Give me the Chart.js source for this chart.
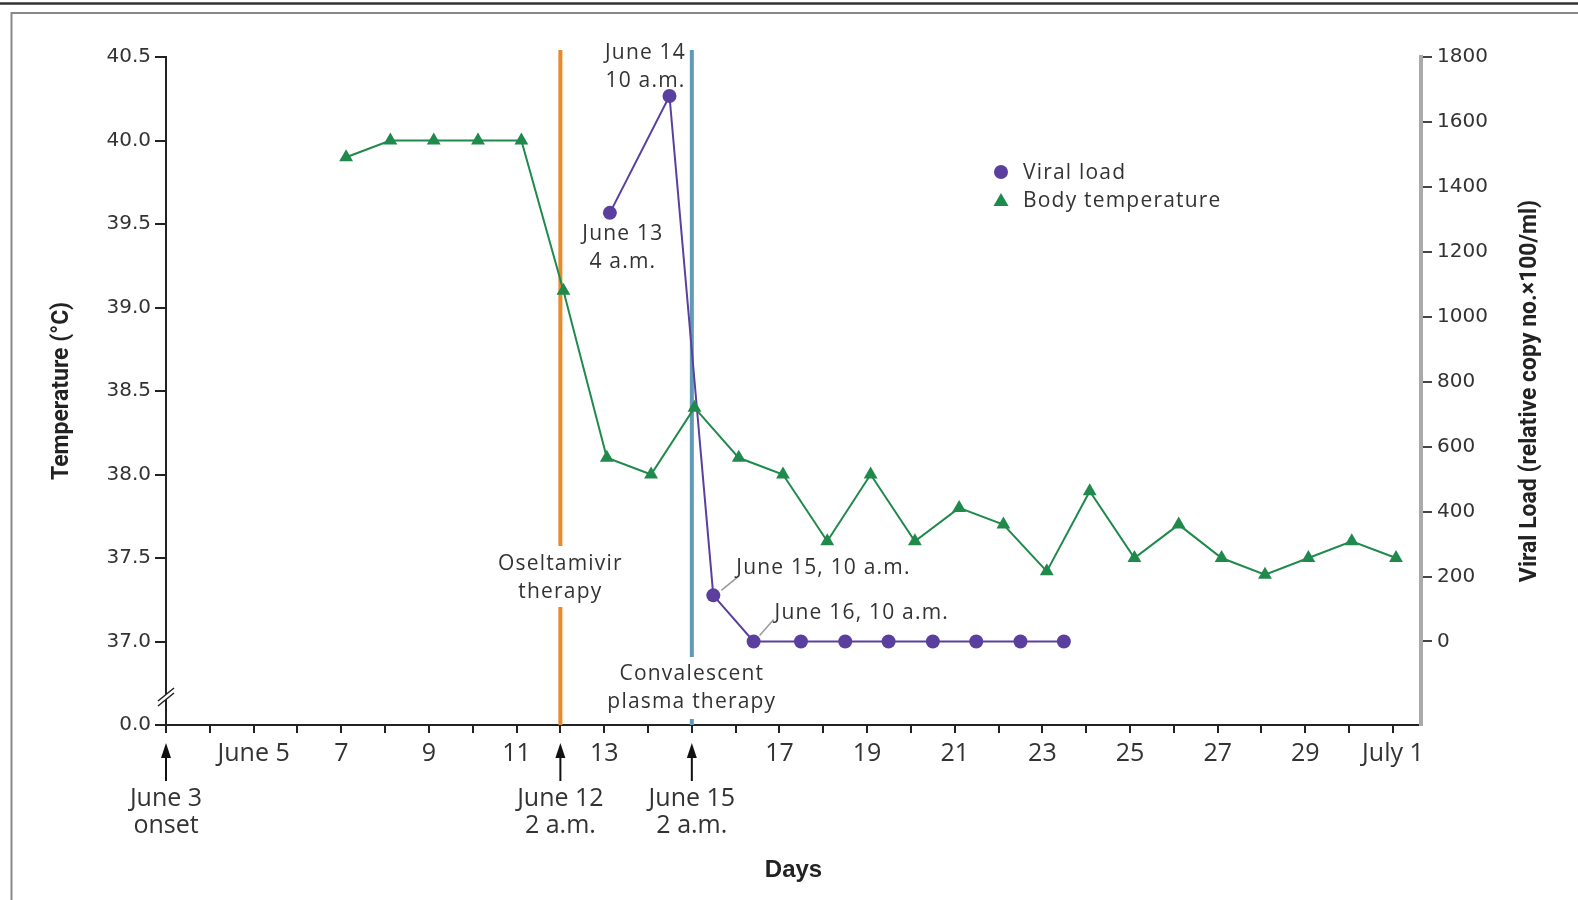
<!DOCTYPE html>
<html><head><meta charset="utf-8">
<script src="https://cdn.jsdelivr.net/npm/chart.js@4.4.0/dist/chart.umd.min.js"></script>
<style>html,body{margin:0;padding:0;background:#fff;}canvas{display:block}</style>
</head><body>
<canvas id="c" width="1578" height="900"></canvas>
<script>
// ---- data ----
const tempDays = [7.11, 8.12, 9.11, 10.12, 11.11, 12.07, 13.06, 14.07, 15.06, 16.07, 17.08, 18.09, 19.08, 20.09, 21.10, 22.11, 23.10, 24.08, 25.10, 26.11, 27.09, 28.08, 29.07, 30.06, 31.07];
const tempValues = [39.9, 40.0, 40.0, 40.0, 40.0, 39.1, 38.1, 38.0, 38.4, 38.1, 38.0, 37.6, 38.0, 37.6, 37.8, 37.7, 37.42, 37.9, 37.5, 37.7, 37.5, 37.4, 37.5, 37.6, 37.5];
const viralDays = [13.13, 14.49, 15.49, 16.41, 17.49, 18.50, 19.49, 20.50, 21.49, 22.50, 23.49];
const viralValues = [1320, 1680, 142, 0, 0, 0, 0, 0, 0, 0, 0];
const tempTicks = [36.5, 37.0, 37.5, 38.0, 38.5, 39.0, 39.5, 40.0, 40.5];
const viralTicks = [0, 200, 400, 600, 800, 1000, 1200, 1400, 1600, 1800];
const dayTicks = [3,4,5,6,7,8,9,10,11,12,13,14,15,16,17,18,19,20,21,22,23,24,25,26,27,28,29,30,31];
const dayLabelDays = [5, 7, 9, 11, 13, 17, 19, 21, 23, 25, 27, 29, 31];
const dayLabelTexts = ['June 5', '7', '9', '11', '13', '17', '19', '21', '23', '25', '27', '29', 'July 1'];
const markerDays = [3, 12, 15];
const markerLabels = [['June 3', 'onset'], ['June 12', '2 a.m.'], ['June 15', '2 a.m.']];
const therapyDays = [12, 15];
const therapyLabels = [['Oseltamivir', 'therapy'], ['Convalescent', 'plasma therapy']];
const seriesNames = ['Viral load', 'Body temperature'];

const GREEN = '#1f8a4c', PURPLE = '#5b3f9f', ORANGE = '#e8892b', BLUE = '#5f9bb6', TXT = '#333';
const annFont = '21px "Open Sans"';
const condFont = '25px "Open Sans"';

function annText(ctx) { ctx.font = annFont; ctx.letterSpacing = '1.2px'; ctx.fillStyle = TXT; ctx.textBaseline = 'middle'; }

const annotPlugin = {
  id: 'annot',
  beforeDraw(chart) {
    const ctx = chart.ctx;
    ctx.save();
    ctx.fillStyle = '#fff'; ctx.fillRect(0,0,chart.width,chart.height);
    ctx.strokeStyle = '#333'; ctx.lineWidth = 2.5;
    ctx.beginPath(); ctx.moveTo(0,3.5); ctx.lineTo(chart.width,3.5); ctx.stroke();
    ctx.strokeStyle = '#888'; ctx.lineWidth = 2;
    ctx.beginPath(); ctx.moveTo(chart.width,13); ctx.lineTo(11.5,13); ctx.lineTo(11.5,chart.height); ctx.stroke();
    ctx.restore();
  },
  beforeDatasetsDraw(chart) {
    const ctx = chart.ctx, x = chart.scales.x, yT = chart.scales.yT;
    const top = 50, bottom = yT.getPixelForValue(36.5);
    ctx.save();
    ctx.lineWidth = 4;
    const xo = x.getPixelForValue(therapyDays[0]);
    ctx.strokeStyle = ORANGE;
    ctx.beginPath(); ctx.moveTo(xo, top); ctx.lineTo(xo, 546); ctx.moveTo(xo, 607); ctx.lineTo(xo, bottom); ctx.stroke();
    const xb = x.getPixelForValue(therapyDays[1]);
    ctx.strokeStyle = BLUE;
    ctx.beginPath(); ctx.moveTo(xb, top); ctx.lineTo(xb, 657); ctx.moveTo(xb, 719); ctx.lineTo(xb, bottom); ctx.stroke();
    annText(ctx); ctx.textAlign = 'center';
    ctx.fillText(therapyLabels[0][0], xo, 564); ctx.fillText(therapyLabels[0][1], xo, 592);
    ctx.fillText(therapyLabels[1][0], xb, 674); ctx.fillText(therapyLabels[1][1], xb, 702);
    ctx.restore();
  },
  afterDatasetsDraw(chart) {
    const ctx = chart.ctx, x = chart.scales.x, yV = chart.scales.yV;
    ctx.save();
    annText(ctx);
    const p0x = x.getPixelForValue(viralDays[0]), p1x = x.getPixelForValue(viralDays[1]);
    ctx.textAlign = 'center';
    ctx.fillText('June 14', p1x - 24, 53); ctx.fillText('10 a.m.', p1x - 24, 81);
    ctx.fillText('June 13', p0x + 13, 234); ctx.fillText('4 a.m.', p0x + 13, 262);
    const p2x = x.getPixelForValue(viralDays[2]), p2y = yV.getPixelForValue(viralValues[2]);
    const p3x = x.getPixelForValue(viralDays[3]), p3y = yV.getPixelForValue(viralValues[3]);
    ctx.strokeStyle = '#999'; ctx.lineWidth = 1.5;
    ctx.beginPath(); ctx.moveTo(p2x + 8, p2y - 5); ctx.lineTo(p2x + 24, p2y - 18); ctx.stroke();
    ctx.beginPath(); ctx.moveTo(p3x + 6, p3y - 6); ctx.lineTo(p3x + 20, p3y - 22); ctx.stroke();
    ctx.textAlign = 'left';
    ctx.fillText('June 15, 10 a.m.', p2x + 23, 568);
    ctx.fillText('June 16, 10 a.m.', p3x + 21, 613);
    // legend
    ctx.fillStyle = PURPLE; ctx.beginPath(); ctx.arc(1001, 172, 7, 0, Math.PI*2); ctx.fill();
    ctx.fillStyle = GREEN; ctx.beginPath(); ctx.moveTo(1001, 193); ctx.lineTo(1008.5, 206); ctx.lineTo(993.5, 206); ctx.closePath(); ctx.fill();
    ctx.fillStyle = TXT;
    ctx.fillText(seriesNames[0], 1023, 173);
    ctx.fillText(seriesNames[1], 1023, 201);
    ctx.restore();
  },
  afterDraw(chart) {
    const ctx = chart.ctx, x = chart.scales.x, yT = chart.scales.yT;
    ctx.save();
    const ax = yT.right;
    ctx.fillStyle = '#fff';
    ctx.beginPath(); ctx.moveTo(ax-8, 701); ctx.lineTo(ax+8, 688); ctx.lineTo(ax+8, 693); ctx.lineTo(ax-8, 706); ctx.closePath(); ctx.fill();
    ctx.strokeStyle = '#222'; ctx.lineWidth = 1.5;
    ctx.beginPath(); ctx.moveTo(ax-8, 701); ctx.lineTo(ax+8, 688); ctx.moveTo(ax-8, 706); ctx.lineTo(ax+8, 693); ctx.stroke();
    ctx.strokeStyle = '#111'; ctx.lineWidth = 2;
    markerDays.forEach((d, i) => {
      const px = x.getPixelForValue(d);
      ctx.fillStyle = '#111';
      ctx.beginPath(); ctx.moveTo(px, 781); ctx.lineTo(px, 752); ctx.stroke();
      ctx.beginPath(); ctx.moveTo(px, 743); ctx.lineTo(px + 5, 758); ctx.lineTo(px - 5, 758); ctx.closePath(); ctx.fill();
      ctx.font = condFont; ctx.textAlign = 'center'; ctx.textBaseline = 'middle';
      ctx.fillStyle = TXT;
      ctx.fillText(markerLabels[i][0], px, 799);
      ctx.fillText(markerLabels[i][1], px, 826);
    });
    // right axis title (reads bottom to top)
    const yV = chart.scales.yV;
    const t = 'Viral Load (relative copy no.\u00d7100/ml)';
    ctx.translate(1530, (yV.top + yV.bottom) / 2);
    ctx.rotate(-Math.PI / 2);
    ctx.font = 'bold 23px Roboto, "Open Sans"';
    const w = ctx.measureText(t).width;
    ctx.scale(Math.min(1, 390 / w), 1);
    ctx.fillStyle = '#222'; ctx.textAlign = 'center'; ctx.textBaseline = 'middle';
    ctx.fillText(t, 0, 0);
    ctx.restore();
  }
};

const chart = new Chart(document.getElementById('c'), {
  type: 'line',
  data: {
    datasets: [
      {
        label: seriesNames[1],
        data: tempDays.map((d, i) => ({x: d, y: tempValues[i]})),
        yAxisID: 'yT', borderColor: GREEN, backgroundColor: GREEN, borderWidth: 2,
        pointStyle: 'triangle', pointRadius: 8, pointBorderWidth: 0, tension: 0
      },
      {
        label: seriesNames[0],
        data: viralDays.map((d, i) => ({x: d, y: viralValues[i]})),
        yAxisID: 'yV', borderColor: PURPLE, backgroundColor: PURPLE, borderWidth: 2,
        pointStyle: 'circle', pointRadius: 7, pointBorderWidth: 0, tension: 0
      }
    ]
  },
  options: {
    responsive: false, animation: false, devicePixelRatio: 1,
    layout: { padding: { top: 57, left: 0, right: 0, bottom: 0 } },
    plugins: { legend: { display: false }, tooltip: { enabled: false } },
    scales: {
      x: {
        type: 'linear', position: 'bottom', min: 3, max: 31.64,
        afterBuildTicks: s => { s.ticks = dayTicks.map(v => ({ value: v })); },
        afterFit: s => { s.height = 175; },
        ticks: {
          autoSkip: false, maxRotation: 0, minRotation: 0, padding: 6, color: TXT,
          font: { family: '"Open Sans"', size: 25 },
          callback: v => { const k = dayLabelDays.indexOf(v); return k >= 0 ? dayLabelTexts[k] : ''; }
        },
        grid: { drawOnChartArea: false, drawTicks: true, tickLength: 8, color: '#222', lineWidth: 2 },
        border: { display: true, color: '#222', width: 2 },
        title: { display: true, text: 'Days', color: '#222', font: { family: '"Liberation Sans", Arial', size: 24, weight: 'bold' }, padding: { top: 0, bottom: 15 } }
      },
      yT: {
        type: 'linear', position: 'left', min: 36.5, max: 40.5,
        afterBuildTicks: s => { s.ticks = tempTicks.map(v => ({ value: v })); },
        afterFit: s => { s.width = 166; },
        ticks: {
          padding: 4, color: TXT, font: { family: '"DejaVu Sans"', size: 20 },
          callback: v => v === 36.5 ? '0.0' : v.toFixed(1)
        },
        grid: { drawOnChartArea: false, drawTicks: true, tickLength: 11, color: '#222', lineWidth: 2 },
        border: { display: true, color: '#222', width: 2 },
        title: { display: true, text: 'Temperature (\u00b0C)', color: '#222', font: { family: 'Roboto, "Open Sans"', size: 23, weight: 'bold' }, padding: { top: 48, bottom: 0 } }
      },
      yV: {
        type: 'linear', position: 'right', min: -257.3, max: 1800,
        afterBuildTicks: s => { s.ticks = viralTicks.map(v => ({ value: v })); },
        afterFit: s => { s.width = 157; },
        ticks: { padding: 5, color: TXT, font: { family: '"DejaVu Sans"', size: 20 }, callback: v => String(v) },
        grid: { drawOnChartArea: false, drawTicks: true, tickLength: 11, color: '#444', lineWidth: 2 },
        border: { display: true, color: '#aaa', width: 4 }
      }
    }
  },
  plugins: [annotPlugin]
});
</script>
</body></html>
